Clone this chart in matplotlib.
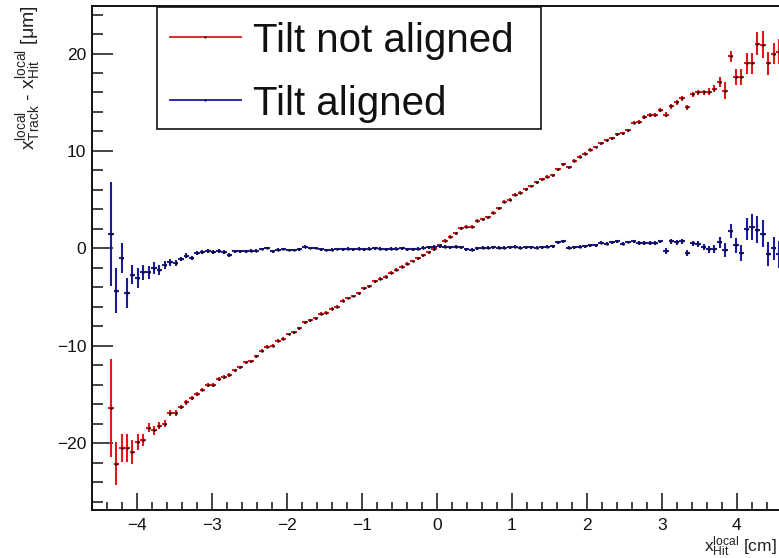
import numpy as np
import matplotlib
matplotlib.use("Agg")
import matplotlib.pyplot as plt
from matplotlib.patches import Rectangle
from matplotlib.lines import Line2D

plt.rcParams['font.family'] = ['Liberation Sans', 'DejaVu Sans']
plt.rcParams['mathtext.fontset'] = 'custom'
plt.rcParams['mathtext.rm'] = 'Liberation Sans'
plt.rcParams['mathtext.it'] = 'Liberation Sans:italic'

# ---- profile binning (128 bins on [-4.6, 4.6]); bins 3..127 are filled ----
x_edges = np.linspace(-4.6, 4.6, 129)
first_bin, last_bin = 3, 127

# mean residual per bin [um], tilt not aligned
resid_not_aligned = [
    -16.4, -22.1, -20.5, -20.5, -20.9, -19.9, -19.7, -18.4, -18.7, -18.2,
    -18.0, -16.9, -16.9, -16.3, -15.8, -15.4, -15.0, -14.5, -14.0, -14.0,
    -13.4, -13.2, -13.0, -12.5, -12.2, -11.7, -11.6, -11.1, -10.5, -10.1,
    -10.0, -9.5, -9.3, -8.8, -8.6, -8.2, -7.6, -7.4, -7.2, -6.7,
    -6.6, -6.2, -6.0, -5.4, -5.1, -4.9, -4.6, -4.1, -3.9, -3.4,
    -3.1, -2.9, -2.5, -2.2, -1.9, -1.6, -1.3, -1.0, -0.7, -0.4,
    -0.1, 0.34, 0.78, 1.2, 1.54, 2.05, 2.2, 2.2, 2.83, 2.97,
    3.2, 3.65, 4.1, 4.8, 5.0, 5.5, 5.7, 6.05, 6.4, 6.8,
    7.1, 7.35, 7.5, 8.1, 8.65, 8.3, 9.0, 9.4, 9.7, 10.1,
    10.4, 10.8, 11.1, 11.3, 11.7, 11.8, 12.1, 12.9, 13.0, 13.5,
    13.7, 13.7, 14.2, 13.7, 14.6, 15.0, 15.4, 14.5, 15.8, 16.0,
    16.0, 16.1, 16.4, 17.1, 16.2, 19.7, 17.6, 17.6, 19.0, 19.0,
    21.0, 20.9, 19.0, 20.0, 20.2,
]
err_not_aligned = [
    5.0, 2.2, 1.4, 1.4, 1.2, 0.8, 0.6, 0.5, 0.45, 0.4,
    0.35, 0.3, 0.3, 0.25, 0.25, 0.2, 0.2, 0.2, 0.2, 0.2,
    0.2, 0.2, 0.2, 0.15, 0.15, 0.15, 0.15, 0.15, 0.15, 0.15,
    0.15, 0.15, 0.15, 0.15, 0.15, 0.15, 0.15, 0.15, 0.15, 0.15,
    0.15, 0.15, 0.15, 0.15, 0.15, 0.15, 0.15, 0.15, 0.15, 0.15,
    0.15, 0.15, 0.15, 0.15, 0.15, 0.15, 0.15, 0.15, 0.15, 0.15,
    0.15, 0.15, 0.15, 0.15, 0.15, 0.15, 0.15, 0.15, 0.15, 0.15,
    0.15, 0.15, 0.15, 0.15, 0.15, 0.15, 0.15, 0.15, 0.15, 0.15,
    0.15, 0.15, 0.15, 0.15, 0.15, 0.15, 0.15, 0.15, 0.15, 0.15,
    0.15, 0.15, 0.15, 0.15, 0.15, 0.15, 0.15, 0.15, 0.2, 0.2,
    0.2, 0.2, 0.2, 0.25, 0.25, 0.25, 0.25, 0.25, 0.3, 0.3,
    0.3, 0.35, 0.4, 0.5, 0.9, 0.6, 0.85, 0.85, 1.1, 1.1,
    1.2, 1.4, 1.2, 1.1, 1.3,
]

# mean residual per bin [um], tilt aligned
resid_aligned = [
    1.47, -4.35, -0.99, -4.59, -2.7, -3.05, -2.47, -2.47, -2.02, -2.23,
    -1.68, -1.44, -1.51, -1.1, -0.75, -0.99, -0.51, -0.41, -0.24, -0.35,
    -0.31, -0.41, -0.65, -0.31, -0.31, -0.31, -0.24, -0.24, -0.07, 0.03,
    -0.31, -0.14, -0.07, -0.17, -0.17, -0.1, 0.17, 0.03, 0.03, -0.1,
    -0.17, -0.14, -0.07, -0.1, -0.05, -0.1, -0.05, -0.1, -0.05, 0.0,
    -0.05, -0.1, -0.05, -0.05, 0.0, -0.1, -0.1, -0.05, 0.05, 0.1,
    0.15, 0.2, 0.15, 0.1, 0.15, 0.1, -0.1, -0.15, 0.0, 0.05,
    0.05, 0.1, 0.05, 0.05, 0.1, 0.15, 0.05, 0.1, 0.1, 0.05,
    0.1, 0.15, 0.2, 0.6, 0.7, 0.05, 0.1, 0.15, 0.2, 0.3,
    0.3, 0.55, 0.45, 0.6, 0.7, 0.45, 0.65, 0.7, 0.5, 0.55,
    0.5, 0.55, 0.7, -0.25, 0.7, 0.6, 0.7, -0.5, 0.5, 0.4,
    0.15, -0.1, -0.1, 0.6, -0.2, 1.8, 0.3, -0.5, 2.0, 2.2,
    1.9, 1.5, -0.6, 0.0, -0.6,
]
err_aligned = [
    5.3, 2.3, 1.5, 1.5, 1.0, 1.0, 0.8, 0.7, 0.6, 0.5,
    0.4, 0.35, 0.3, 0.25, 0.25, 0.2, 0.2, 0.2, 0.2, 0.2,
    0.2, 0.2, 0.2, 0.15, 0.15, 0.15, 0.15, 0.15, 0.15, 0.15,
    0.15, 0.15, 0.15, 0.15, 0.15, 0.15, 0.15, 0.15, 0.15, 0.15,
    0.15, 0.15, 0.15, 0.15, 0.15, 0.15, 0.15, 0.15, 0.15, 0.15,
    0.15, 0.15, 0.15, 0.15, 0.15, 0.15, 0.15, 0.15, 0.15, 0.15,
    0.15, 0.15, 0.15, 0.15, 0.15, 0.15, 0.15, 0.15, 0.15, 0.15,
    0.15, 0.15, 0.15, 0.15, 0.15, 0.15, 0.15, 0.15, 0.15, 0.15,
    0.15, 0.15, 0.15, 0.15, 0.15, 0.15, 0.15, 0.15, 0.15, 0.15,
    0.15, 0.15, 0.15, 0.15, 0.15, 0.15, 0.15, 0.15, 0.2, 0.2,
    0.2, 0.2, 0.2, 0.3, 0.3, 0.3, 0.3, 0.3, 0.3, 0.3,
    0.3, 0.35, 0.4, 0.6, 0.7, 0.7, 0.75, 0.8, 1.1, 1.3,
    1.4, 1.4, 1.2, 1.2, 1.4,
]

series_labels = ["Tilt not aligned", "Tilt aligned"]
series_colors = ["#e01818", "#1a1aa0"]
x_ticks = [-4, -3, -2, -1, 0, 1, 2, 3, 4]
y_ticks = [-20, -10, 0, 10, 20]

centers = 0.5 * (x_edges[:-1] + x_edges[1:])[first_bin:last_bin + 1]
half_w = 0.5 * np.diff(x_edges)[first_bin:last_bin + 1]

W, H = 779, 558
fig = plt.figure(figsize=(W / 100, H / 100), dpi=100)
fx = lambda px: px / W
fy = lambda py: 1 - py / H

ax = fig.add_axes([fx(92), fy(510), fx(781.7) - fx(92), fy(6) - fy(510)])
ax.set_xlim(-4.6, 4.6)
ax.set_ylim(-26.87, 24.88)

for vals, errs, col in [(resid_not_aligned, err_not_aligned, series_colors[0]),
                        (resid_aligned, err_aligned, series_colors[1])]:
    ax.errorbar(centers, vals, yerr=errs, xerr=half_w, fmt='none',
                ecolor=col, elinewidth=1.5, capsize=0)
    ax.plot(centers, vals, ls='none', marker='o', ms=1.8, mew=0,
            color='#111111')

ax.set_xticks(x_ticks)
ax.set_yticks(y_ticks)
ax.xaxis.set_minor_locator(matplotlib.ticker.MultipleLocator(0.2))
ax.yaxis.set_minor_locator(matplotlib.ticker.MultipleLocator(2))
ax.tick_params(axis='both', which='both', direction='in', top=False,
               right=False, width=1.1, colors='#111111', labelsize=12.5)
ax.tick_params(axis='y', which='major', length=15, pad=4)
ax.tick_params(axis='y', which='minor', length=8)
ax.tick_params(axis='x', which='major', length=12, pad=6)
ax.tick_params(axis='x', which='minor', length=6)
for s in ax.spines.values():
    s.set_linewidth(1.4)
    s.set_color('#111111')

# axis titles
fig.text(fx(29), fy(5), r'x$^{\rm local}_{\rm Track}$ - x$^{\rm local}_{\rm Hit}$ [μm]',
         rotation=90, ha='center', va='top', fontsize=14, color='#222222')
fig.text(fx(777), fy(551.5), r'x$^{\rm local}_{\rm Hit}$ [cm]',
         ha='right', va='baseline', fontsize=12.5, color='#222222')

# legend box
fig.patches.append(Rectangle((fx(157.3), fy(129.3)), fx(540.7) - fx(157.3),
                             fy(7.3) - fy(129.3), transform=fig.transFigure,
                             facecolor='white', edgecolor='#111111', lw=1.2,
                             zorder=5))
for row_y, lab, col in [(37.3, series_labels[0], series_colors[0]),
                        (100, series_labels[1], series_colors[1])]:
    fig.lines.append(Line2D([fx(170), fx(240.7)], [fy(row_y), fy(row_y)],
                            transform=fig.transFigure, color=col, lw=1.3,
                            zorder=6))
    fig.lines.append(Line2D([fx(205)], [fy(row_y)], transform=fig.transFigure,
                            marker='o', ms=1.6, mew=0, color='#111111',
                            zorder=7))
    fig.text(fx(253.3), fy(row_y), lab, ha='left', va='center_baseline',
             fontsize=29, color='#111111', zorder=7)

fig.savefig('out.png', dpi=100)
